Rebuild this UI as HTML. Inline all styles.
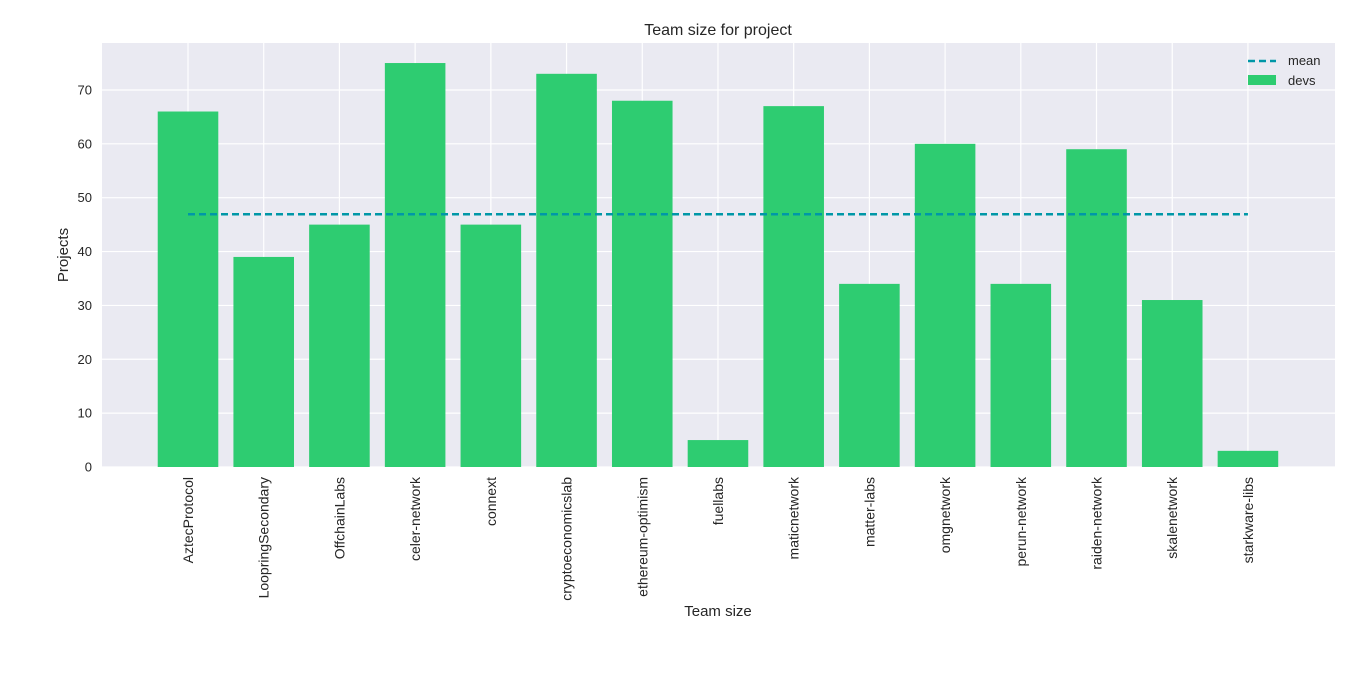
<!DOCTYPE html>
<html><head><meta charset="utf-8"><style>
html,body{margin:0;padding:0;background:#fff;}
svg text{font-family:"Liberation Sans","DejaVu Sans",sans-serif;fill:#262626;}
</style></head><body>
<svg id="chart" width="1360" height="671" xmlns="http://www.w3.org/2000/svg">
<rect x="102" y="43" width="1233" height="424" fill="#eaeaf2"/>
<g id="grid"></g>
<g id="bars"></g>
<g id="ticks"></g>
<text x="718" y="35" text-anchor="middle" font-size="16">Team size for project</text>
<text x="718" y="616" text-anchor="middle" font-size="15">Team size</text>
<text transform="translate(68,255) rotate(-90)" text-anchor="middle" font-size="15">Projects</text>
<g>
<line x1="1248" y1="61" x2="1276" y2="61" stroke="#0097a7" stroke-width="2.5" stroke-dasharray="7,4"/>
<text x="1288" y="65" font-size="13">mean</text>
<rect x="1248" y="75" width="28" height="10" fill="#2ecc71"/>
<text x="1288" y="85" font-size="13">devs</text>
</g>
</svg>
<script>
const categories=["AztecProtocol","LoopringSecondary","OffchainLabs","celer-network","connext","cryptoeconomicslab","ethereum-optimism","fuellabs","maticnetwork","matter-labs","omgnetwork","perun-network","raiden-network","skalenetwork","starkware-libs"];
const devs=[66,39,45,75,45,73,68,5,67,34,60,34,59,31,3];
const yTicks=[0,10,20,30,40,50,60,70];
const NS="http://www.w3.org/2000/svg";
const x0=102,x1=1335,y0=467,y1=43;
const xmin=-1.136,xmax=15.15,ymin=0,ymax=78.72;
const xs=i=>x0+(i-xmin)/(xmax-xmin)*(x1-x0);
const ys=v=>y0-(v-ymin)/(ymax-ymin)*(y0-y1);
const bw=(xs(1)-xs(0))*0.8;
function mk(tag,attrs,parent){const e=document.createElementNS(NS,tag);for(const k in attrs)e.setAttribute(k,attrs[k]);parent.appendChild(e);return e;}
const grid=document.getElementById('grid'),bars=document.getElementById('bars'),ticks=document.getElementById('ticks');
yTicks.forEach(t=>{
  const l=mk('line',{x1:x0,x2:x1,y1:ys(t),y2:ys(t),stroke:'#fff','stroke-width':1.2},grid);
  
  
  const tx=mk('text',{x:92,y:ys(t)+4.5,'text-anchor':'end','font-size':13},ticks);
  tx.textContent=t;
  
  
});
categories.forEach((c,i)=>{
  const l=mk('line',{x1:xs(i),x2:xs(i),y1:y1,y2:y0,stroke:'#fff','stroke-width':1.2},grid);
  
  
  const r=mk('rect',{x:xs(i)-bw/2,y:ys(devs[i]),width:bw,height:ys(0)-ys(devs[i]),fill:'#2ecc71'},bars);
  
  
  const tx=mk('text',{transform:`translate(${xs(i)+5},477) rotate(-90)`,'text-anchor':'end','font-size':14},ticks);
  tx.textContent=c;
  
  
});
const mean=devs.reduce((a,b)=>a+b,0)/devs.length;
const ml=mk('line',{x1:xs(0),x2:xs(devs.length-1),y1:ys(mean),y2:ys(mean),stroke:'#0097a7','stroke-width':2.5,'stroke-dasharray':'7,4'},bars);


</script>
</body></html>
